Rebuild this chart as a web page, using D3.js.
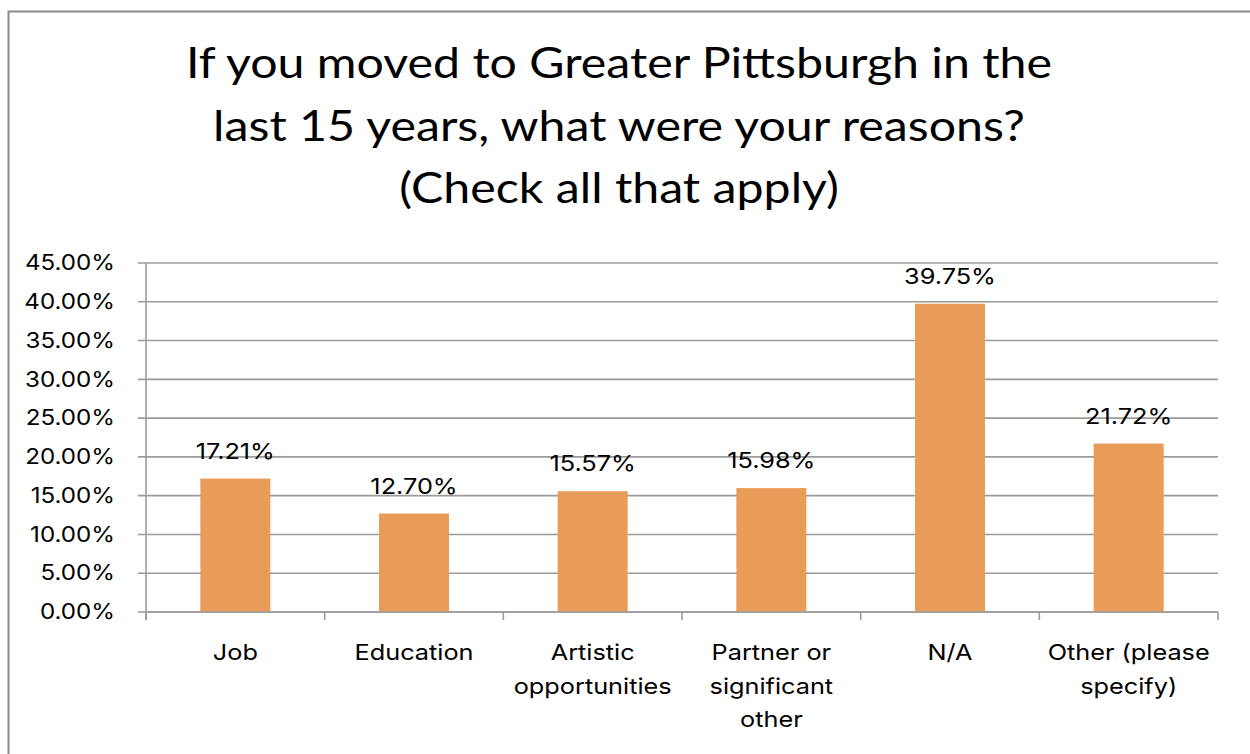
<!DOCTYPE html>
<html>
<head>
<meta charset="utf-8">
<script src="https://cdn.jsdelivr.net/npm/d3@7"></script>
<style>
  html, body { margin: 0; padding: 0; background: #fff; }
  svg { display: block; }
</style>
</head>
<body>
<svg id="chart" width="1250" height="754"></svg>
<script>
// Survey answers: share of respondents giving each reason for moving
const categories = ["Job", "Education", "Artistic\nopportunities", "Partner or\nsignificant\nother", "N/A", "Other (please\nspecify)"];
const shares = [0.1721, 0.1270, 0.1557, 0.1598, 0.3975, 0.2172];
const yTicks = [0, 0.05, 0.10, 0.15, 0.20, 0.25, 0.30, 0.35, 0.40, 0.45];
const titleLines = ["If you moved to Greater Pittsburgh in the", "last 15 years, what were your reasons?", "(Check all that apply)"];

const svg = d3.select("#chart");
const W = 1250, H = 754;
const labelFont = "Inter, 'Liberation Sans', Arial, sans-serif";
const titleFont = "Lato, 'Open Sans', sans-serif";
const stretch = 1.15;      // wide set type
const titleStretch = 1.15;

// outer chart frame
svg.append("rect")
  .attr("x", 8.5).attr("y", 11.5)
  .attr("width", W + 10).attr("height", H + 10)
  .attr("fill", "#fff").attr("stroke", "#8a8a8a").attr("stroke-width", 2);

const m = { left: 146, right: 1218, top: 263, bottom: 612 };

const x = d3.scaleBand().domain(categories).range([m.left, m.right]).paddingInner(0).paddingOuter(0);
const y = d3.scaleLinear().domain([0, 0.45]).range([m.bottom, m.top]);

// title
const title = svg.append("g");
titleLines.forEach((t, i) => {
  title.append("text")
    .attr("transform", `translate(619,${78 + i * 62.5}) scale(${titleStretch},1)`)
    .attr("text-anchor", "middle")
    .attr("font-family", titleFont)
    .attr("font-size", 42)
    .attr("fill", "#000")
    .text(t);
});

// horizontal gridlines
svg.append("g")
  .selectAll("line")
  .data(yTicks)
  .join("line")
  .attr("x1", m.left - 8).attr("x2", m.right)
  .attr("y1", d => y(d)).attr("y2", d => y(d))
  .attr("stroke", "#9b9b9b").attr("stroke-width", 1.6);

// y axis
const yAxis = svg.append("g")
  .attr("transform", `translate(${m.left},0)`)
  .call(d3.axisLeft(y).tickValues(yTicks).tickFormat(d3.format(".2%")).tickSize(0));
yAxis.select(".domain").remove();
yAxis.selectAll("text")
  .attr("x", -31 / stretch)
  .attr("transform", `scale(${stretch},1)`)
  .attr("font-family", labelFont).attr("font-size", 21).attr("fill", "#000");

svg.append("line")
  .attr("x1", m.left).attr("x2", m.left)
  .attr("y1", m.top).attr("y2", m.bottom + 8)
  .attr("stroke", "#9b9b9b").attr("stroke-width", 1.6);

// bars
const barW = 70;
svg.append("g")
  .selectAll("rect")
  .data(shares)
  .join("rect")
  .attr("x", (d, i) => x(categories[i]) + x.bandwidth() / 2 - barW / 2)
  .attr("width", barW)
  .attr("y", d => y(d))
  .attr("height", d => y(0) - y(d))
  .attr("fill", "#E99C58");

// x axis with tick marks at band boundaries
const xAxis = svg.append("g")
  .attr("transform", `translate(0,${m.bottom})`);
xAxis.append("line")
  .attr("x1", m.left).attr("x2", m.right)
  .attr("stroke", "#9b9b9b").attr("stroke-width", 1.6);
const bounds = categories.map(c => x(c)).concat([m.right]);
xAxis.selectAll("line.tick")
  .data(bounds)
  .join("line")
  .attr("class", "tick")
  .attr("x1", d => d).attr("x2", d => d)
  .attr("y1", 0).attr("y2", 8)
  .attr("stroke", "#9b9b9b").attr("stroke-width", 1.6);

// category labels, wrapped on line breaks
categories.forEach(c => {
  const lines = c.split("\n");
  const cx = x(c) + x.bandwidth() / 2;
  lines.forEach((ln, j) => {
    svg.append("text")
      .attr("transform", `translate(${cx},${660 + j * 33.5}) scale(${stretch},1)`)
      .attr("text-anchor", "middle")
      .attr("font-family", labelFont).attr("font-size", 22).attr("fill", "#000")
      .text(ln);
  });
});

// value labels above bars
svg.append("g")
  .selectAll("text")
  .data(shares)
  .join("text")
  .attr("transform", (d, i) => `translate(${x(categories[i]) + x.bandwidth() / 2},${y(d) - 20}) scale(${stretch},1)`)
  .attr("text-anchor", "middle")
  .attr("font-family", labelFont).attr("font-size", 22).attr("fill", "#000")
  .text(d => d3.format(".2%")(d));
</script>
</body>
</html>
